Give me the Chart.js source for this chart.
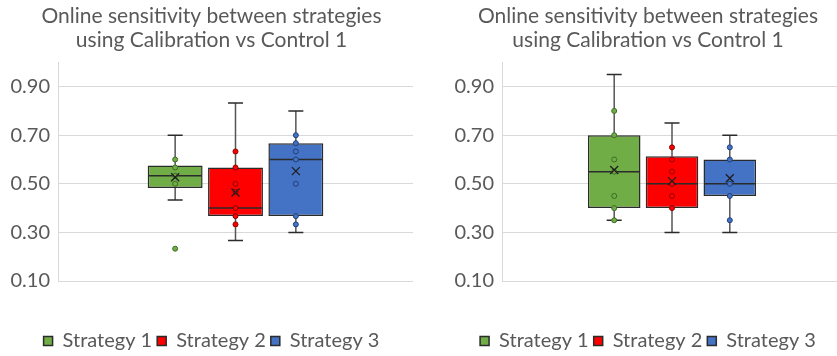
<!DOCTYPE html>
<html>
<head>
<meta charset="utf-8">
<script src="https://cdn.jsdelivr.net/npm/chart.js@4/dist/chart.umd.min.js"></script>
<style>
    html, body { margin: 0; padding: 0; background: #ffffff; overflow: hidden; }
    body { width: 837px; height: 356px; position: relative; }
    .chart-box { position: absolute; top: 0; height: 356px; }
    #leftBox { left: 0; width: 420px; }
    #rightBox { left: 444px; width: 405px; }
</style>
</head>
<body>
<div class="chart-box" id="leftBox"><canvas id="leftChart"></canvas></div>
<div class="chart-box" id="rightBox"><canvas id="rightChart"></canvas></div>
<script>
const chartTitle = ["Online sensitivity between strategies", "using Calibration vs Control 1"];
const strategyNames = ["Strategy 1", "Strategy 2", "Strategy 3"];
const yTickValues = [0.1, 0.3, 0.5, 0.7, 0.9];

// left panel
const leftMin = [0.433, 0.267, 0.300];
const leftQ1 = [0.483, 0.367, 0.367];
const leftMedian = [0.533, 0.400, 0.600];
const leftQ3 = [0.575, 0.567, 0.667];
const leftMax = [0.700, 0.833, 0.800];
const leftMean = [0.527, 0.464, 0.552];
const leftPoints = [
    [0.233, 0.500, 0.533, 0.567, 0.600],
    [0.333, 0.367, 0.400, 0.467, 0.500, 0.567, 0.633],
    [0.333, 0.367, 0.500, 0.600, 0.633, 0.667, 0.700]
];

// right panel
const rightMin = [0.350, 0.300, 0.300];
const rightQ1 = [0.400, 0.400, 0.450];
const rightMedian = [0.550, 0.500, 0.500];
const rightQ3 = [0.700, 0.613, 0.600];
const rightMax = [0.950, 0.750, 0.700];
const rightMean = [0.557, 0.511, 0.523];
const rightPoints = [
    [0.350, 0.400, 0.450, 0.550, 0.600, 0.700, 0.800],
    [0.400, 0.450, 0.500, 0.550, 0.600, 0.650],
    [0.350, 0.450, 0.500, 0.600, 0.650]
];

const fillColors = ["#70AD47", "#FF0000", "#4472C4"];
const dotEdgeColors = ["#3f6b25", "#8b0000", "#203f7a"];
const outlineColor = "#2b2b2b";
const whiskerColor = "#555555";
const textColor = "#595959";
const gridColor = "#d9d9d9";

Chart.defaults.font.family = "Lato, 'Open Sans', sans-serif";
Chart.defaults.color = textColor;

// whiskers, median, mean marker and dots on top of the floating bars
function boxExtrasPlugin(stats) {
    return {
        id: "boxExtras",
        afterDatasetsDraw(chart) {
            const ctx = chart.ctx;
            const y = chart.scales.y;
            ctx.save();
            chart.data.datasets.forEach((ds, i) => {
                const bar = chart.getDatasetMeta(i).data[0];
                const cx = bar.x;
                const half = bar.width / 2;
                const cap = 7.5;

                ctx.lineWidth = 1.5;
                ctx.strokeStyle = whiskerColor;
                ctx.beginPath();
                ctx.moveTo(cx, y.getPixelForValue(stats.q3[i]));
                ctx.lineTo(cx, y.getPixelForValue(stats.max[i]));
                ctx.moveTo(cx, y.getPixelForValue(stats.q1[i]));
                ctx.lineTo(cx, y.getPixelForValue(stats.min[i]));
                ctx.stroke();

                ctx.strokeStyle = outlineColor;
                ctx.beginPath();
                ctx.moveTo(cx - cap, y.getPixelForValue(stats.max[i]));
                ctx.lineTo(cx + cap, y.getPixelForValue(stats.max[i]));
                ctx.moveTo(cx - cap, y.getPixelForValue(stats.min[i]));
                ctx.lineTo(cx + cap, y.getPixelForValue(stats.min[i]));
                ctx.moveTo(cx - half + 1, y.getPixelForValue(stats.median[i]));
                ctx.lineTo(cx + half - 1, y.getPixelForValue(stats.median[i]));
                ctx.stroke();

                ctx.lineWidth = 1;
                stats.points[i].forEach(v => {
                    ctx.beginPath();
                    ctx.arc(cx, y.getPixelForValue(v), 2.5, 0, Math.PI * 2);
                    ctx.fillStyle = fillColors[i];
                    ctx.fill();
                    ctx.strokeStyle = dotEdgeColors[i];
                    ctx.stroke();
                });

                const my = y.getPixelForValue(stats.mean[i]);
                const s = 4;
                ctx.lineWidth = 1.3;
                ctx.strokeStyle = "#1f1f1f";
                ctx.beginPath();
                ctx.moveTo(cx - s, my - s);
                ctx.lineTo(cx + s, my + s);
                ctx.moveTo(cx - s, my + s);
                ctx.lineTo(cx + s, my - s);
                ctx.stroke();
            });
            ctx.restore();
        }
    };
}

function makeBoxChart(canvasId, stats) {
    const datasets = strategyNames.map((name, i) => ({
        label: name,
        data: [[stats.q1[i], stats.q3[i]]],
        backgroundColor: fillColors[i],
        borderColor: outlineColor,
        borderWidth: 1.5,
        borderSkipped: false,
        categoryPercentage: 0.51,
        barPercentage: 0.91
    }));

    return new Chart(document.getElementById(canvasId), {
        type: "bar",
        data: { labels: [""], datasets: datasets },
        options: {
            responsive: true,
            maintainAspectRatio: false,
            animation: false,
            layout: { padding: { left: 10, right: 7, top: 0, bottom: -5 } },
            plugins: {
                title: {
                    display: true,
                    text: chartTitle,
                    color: textColor,
                    font: { size: 21, weight: "normal", lineHeight: 1.15 },
                    padding: { top: 4, bottom: 10 }
                },
                legend: {
                    position: "bottom",
                    labels: {
                        boxWidth: 9,
                        boxHeight: 9,
                        padding: 5,
                        color: textColor,
                        font: { size: 20 }
                    }
                },
                tooltip: { enabled: false }
            },
            scales: {
                x: {
                    ticks: { display: false },
                    grid: { display: false },
                    border: { display: false },
                    afterFit: scale => { scale.height = 45; }
                },
                y: {
                    min: 0.1,
                    max: 1.0,
                    afterBuildTicks: scale => {
                        scale.ticks = yTickValues.map(v => ({ value: v }));
                    },
                    afterFit: scale => { scale.width = 48; },
                    ticks: {
                        padding: 8,
                        color: textColor,
                        font: { size: 20 },
                        callback: value => Number(value).toFixed(2)
                    },
                    grid: { color: gridColor, drawTicks: false },
                    border: { display: true, color: gridColor }
                }
            }
        },
        plugins: [boxExtrasPlugin(stats)]
    });
}

makeBoxChart("leftChart", {
    min: leftMin, q1: leftQ1, median: leftMedian, q3: leftQ3,
    max: leftMax, mean: leftMean, points: leftPoints
});
makeBoxChart("rightChart", {
    min: rightMin, q1: rightQ1, median: rightMedian, q3: rightQ3,
    max: rightMax, mean: rightMean, points: rightPoints
});
</script>
</body>
</html>
